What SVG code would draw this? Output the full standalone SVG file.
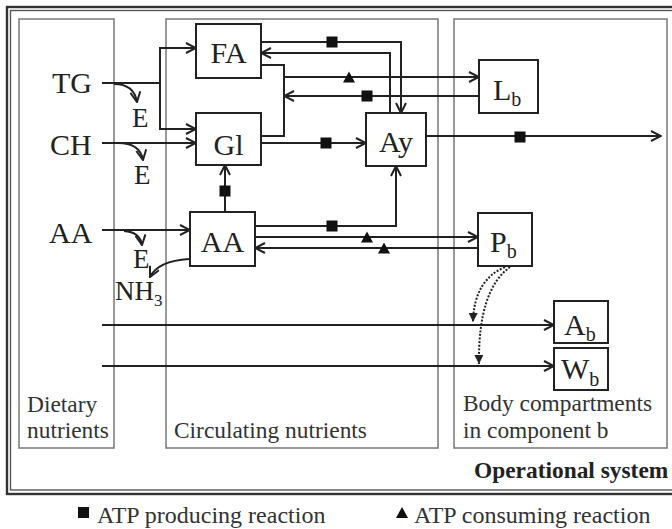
<svg xmlns="http://www.w3.org/2000/svg" width="672" height="529" viewBox="0 0 672 529">
<style>
text{font-family:"Liberation Serif","Times New Roman",serif;fill:#222}
.big{font-size:30px}
.sub{font-size:20px}
.lab{font-size:23.4px;fill:#333}
.leg{font-size:24px;fill:#333}
.box{fill:#fff;stroke:#222;stroke-width:2}
.panel{fill:none;stroke:#808080;stroke-width:1.6}
.c{fill:none;stroke:#222;stroke-width:2}
.ca{fill:none;stroke:#222;stroke-width:2;marker-end:url(#arr)}
.dot{fill:none;stroke:#222;stroke-width:2;stroke-dasharray:2 1.6;marker-end:url(#tri)}
.sq{fill:#111}
</style>
<defs>
<marker id="arr" viewBox="0 0 12 12" refX="11" refY="6" markerWidth="12" markerHeight="12" markerUnits="userSpaceOnUse" orient="auto">
<path d="M1,1 L11,6 L1,11" fill="none" stroke="#222" stroke-width="2"/>
</marker>
<marker id="tri" viewBox="0 0 10 10" refX="10" refY="5" markerWidth="9" markerHeight="9" markerUnits="userSpaceOnUse" orient="auto">
<path d="M0,0 L10,5 L0,10 Z" fill="#222"/>
</marker>
<rect id="sqr" x="-5.5" y="-5.5" width="11" height="11" class="sq"/>
<path id="trg" d="M0,-5.5 L6,5.5 L-6,5.5 Z" fill="#111"/>
</defs>
<rect width="672" height="529" fill="#fff"/>
<g id="frame">
<rect x="7" y="7" width="700" height="487" fill="none" stroke="#333" stroke-width="2.4"/>
<rect x="10.5" y="10.5" width="700" height="479.5" fill="none" stroke="#555" stroke-width="1.4"/>
</g>
<g id="panels">
<rect id="dietary" class="panel" x="19" y="19" width="95" height="429"/>
<rect id="circulating" class="panel" x="166" y="19" width="272" height="429"/>
<rect id="body" class="panel" x="454" y="19" width="213" height="429"/>
<text class="lab" x="27" y="412">Dietary</text>
<text class="lab" x="27" y="438">nutrients</text>
<text class="lab" x="174" y="438">Circulating nutrients</text>
<text class="lab" x="463" y="411">Body compartments</text>
<text class="lab" x="463" y="438">in component b</text>
<text class="lab" x="474" y="478" font-weight="bold" style="fill:#222">Operational system</text>
</g>
<g id="connectors">
<path class="c" d="M102,83 H160"/>
<path class="ca" d="M160,83 V48 H196"/>
<path class="ca" d="M160,83 V129 H196"/>
<path class="ca" d="M102,143 H196"/>
<path class="ca" d="M102,230 H190"/>
<path class="ca" d="M114,84 Q134,84 137,102"/>
<path class="ca" d="M118,143 Q140,143 143,160"/>
<path class="ca" d="M124,231 Q140,232 142,245"/>
<path class="ca" d="M189,259 Q158,261 150,277"/>
<path class="ca" d="M225,212 V165"/>
<path class="ca" d="M261,42 H401 V113"/>
<path class="ca" d="M390,113 V53 H261"/>
<path class="c" d="M261,65 H284 V136 H261"/>
<path class="ca" d="M284,77 H479"/>
<path class="ca" d="M479,96 H284"/>
<path class="ca" d="M261,143 H366"/>
<path class="ca" d="M426,136 H661"/>
<path class="ca" d="M255,226 H396 V166"/>
<path class="ca" d="M255,237 H478"/>
<path class="ca" d="M478,248 H255"/>
<path class="ca" d="M102,325 H554"/>
<path class="ca" d="M102,366 H554"/>
<path class="dot" d="M505,267 Q474,280 473,322"/>
<path class="dot" d="M510,267 Q478,290 479,364"/>
<use href="#sqr" x="225" y="191"/>
<use href="#sqr" x="332" y="42"/>
<use href="#sqr" x="367" y="96"/>
<use href="#sqr" x="326" y="143"/>
<use href="#sqr" x="520" y="137"/>
<use href="#sqr" x="332" y="226"/>
<use href="#trg" x="349" y="77"/>
<use href="#trg" x="367" y="237"/>
<use href="#trg" x="384" y="248"/>
</g>
<g id="TG"><text class="big" x="52" y="93">TG</text></g>
<g id="CH"><text class="big" x="50" y="155">CH</text></g>
<g id="AAdiet"><text class="big" x="49" y="243">AA</text></g>
<g id="E1"><text class="big" x="132" y="127" style="font-size:27px">E</text></g>
<g id="E2"><text class="big" x="134" y="184" style="font-size:27px">E</text></g>
<g id="E3"><text class="big" x="133" y="268" style="font-size:27px">E</text></g>
<g id="NH3"><text class="big" x="115" y="300" style="font-size:27px">NH<tspan class="sub" dy="6" style="font-size:17px">3</tspan></text></g>
<g id="FA"><rect class="box" x="196" y="24" width="65" height="54"/><text class="big" x="228.5" y="63" text-anchor="middle">FA</text></g>
<g id="Gl"><rect class="box" x="196" y="113" width="65" height="52"/><text class="big" x="228.5" y="155" text-anchor="middle">Gl</text></g>
<g id="AAcirc"><rect class="box" x="190" y="212" width="65" height="54"/><text class="big" x="222.5" y="252" text-anchor="middle">AA</text></g>
<g id="Ay"><rect class="box" x="366" y="113" width="60" height="53"/><text class="big" x="396" y="152" text-anchor="middle">Ay</text></g>
<g id="Lb"><rect class="box" x="479" y="60" width="59" height="53"/><text class="big" x="493" y="100">L<tspan class="sub" dy="6">b</tspan></text></g>
<g id="Pb"><rect class="box" x="478" y="213" width="54" height="53"/><text class="big" x="490" y="252">P<tspan class="sub" dy="6">b</tspan></text></g>
<g id="Ab"><rect class="box" x="554" y="301" width="54" height="42"/><text class="big" x="564" y="335">A<tspan class="sub" dy="6">b</tspan></text></g>
<g id="Wb"><rect class="box" x="554" y="348" width="54" height="42"/><text class="big" x="561" y="379">W<tspan class="sub" dy="7">b</tspan></text></g>
<g id="legend">
<rect x="78" y="507" width="11" height="11" fill="#111"/>
<text class="leg" x="97" y="523">ATP producing reaction</text>
<path d="M402,507 L408,518 L396,518 Z" fill="#111"/>
<text class="leg" x="414" y="523">ATP consuming reaction</text>
</g>
</svg>
